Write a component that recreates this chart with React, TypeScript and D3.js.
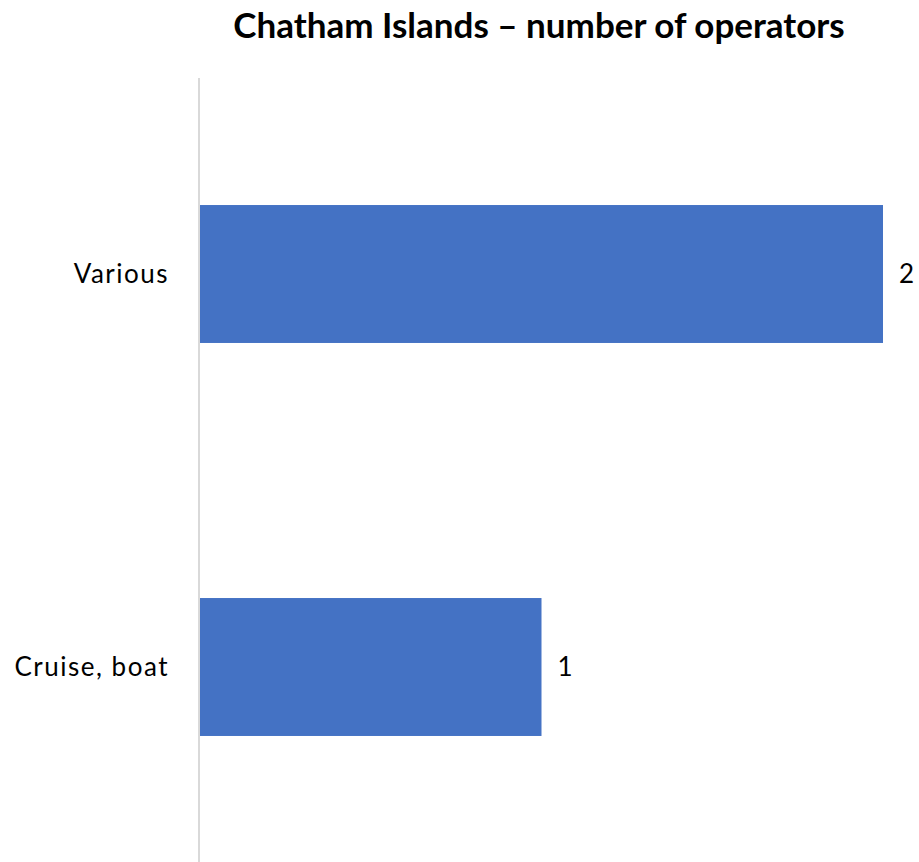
import React from "react";
import * as d3 from "d3";

const categories = ["Various", "Cruise, boat"];
const values = [2, 1];
const title = "Chatham Islands – number of operators";

const W = 919;
const H = 862;
const FONT = "Lato, 'Open Sans', sans-serif";

export default function App() {
  const x = d3.scaleLinear().domain([0, 2]).range([200, 883]);
  const y = d3
    .scaleBand<string>()
    .domain(categories)
    .range([77.5, 863.5])
    .paddingInner(0.649)
    .paddingOuter(0.3245);

  return (
    <svg
      width={W}
      height={H}
      style={{ position: "absolute", left: 0, top: 0, background: "#fff" }}
      fontFamily={FONT}
    >
      <text
        x={539}
        y={38}
        textAnchor="middle"
        fontSize={35}
        fontWeight="bold"
        fill="#000"
      >
        {title}
      </text>
      {categories.map((c, i) => (
        <g key={c}>
          <rect
            x={x(0)}
            y={y(c)!}
            width={x(values[i]) - x(0)}
            height={y.bandwidth()}
            fill="#4472c4"
          />
          <text
            x={x(values[i]) + 16}
            y={y(c)! + y.bandwidth() / 2}
            dy="0.36em"
            fontSize={26}
            fill="#000"
          >
            {values[i]}
          </text>
          <text
            x={169}
            y={y(c)! + y.bandwidth() / 2}
            dy="0.36em"
            textAnchor="end"
            fontSize={26}
            letterSpacing={1.5}
            fill="#000"
          >
            {c}
          </text>
        </g>
      ))}
      <line x1={199} x2={199} y1={78} y2={862} stroke="#d9d9d9" strokeWidth={2} />
    </svg>
  );
}
